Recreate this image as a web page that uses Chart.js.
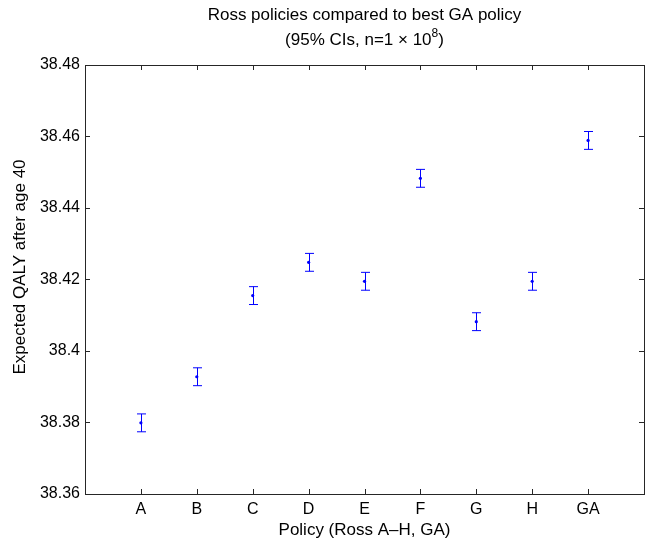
<!DOCTYPE html>
<html>
<head>
<meta charset="utf-8">
<script src="https://cdn.jsdelivr.net/npm/chart.js@4"></script>
<style>
  html, body { margin: 0; padding: 0; background: #fff; }
  #wrap { width: 648px; height: 543px; }
</style>
</head>
<body>
<div id="wrap"><canvas id="qalyChart" width="648" height="543"></canvas></div>
<script>
const policies = ['A', 'B', 'C', 'D', 'E', 'F', 'G', 'H', 'GA'];
const meanQaly = [38.3799, 38.3928, 38.4155, 38.4248, 38.4195, 38.4483, 38.4082, 38.4195, 38.4589];
const ciHalf = [0.0025, 0.0025, 0.0025, 0.0025, 0.0025, 0.0025, 0.0025, 0.0025, 0.0025];
const yTicks = [38.36, 38.38, 38.40, 38.42, 38.44, 38.46, 38.48];

const FONT = '"Liberation Sans", Arial, Helvetica, sans-serif';
const AXIS = '#262626';
const BLUE = '#0000ff';

const points = meanQaly.map((v, i) => ({ x: i + 1, y: v }));

// error bars, drawn from the scales
const errorBars = {
    id: 'errorBars',
    afterDatasetsDraw(chart) {
        const ctx = chart.ctx;
        const xs = chart.scales.x, ys = chart.scales.y;
        ctx.save();
        ctx.strokeStyle = BLUE;
        ctx.lineWidth = 1;
        meanQaly.forEach((m, i) => {
            const px = Math.round(xs.getPixelForValue(i + 1)) + 0.5;
            const top = ys.getPixelForValue(m + ciHalf[i]);
            const bot = ys.getPixelForValue(m - ciHalf[i]);
            ctx.beginPath();
            ctx.moveTo(px, top); ctx.lineTo(px, bot);
            ctx.moveTo(px - 4.5, top); ctx.lineTo(px + 4.5, top);
            ctx.moveTo(px - 4.5, bot); ctx.lineTo(px + 4.5, bot);
            ctx.stroke();
        });
        ctx.restore();
    }
};

// matlab style box with inward ticks, plus titles
const frame = {
    id: 'frame',
    afterDraw(chart) {
        const ctx = chart.ctx;
        const a = chart.chartArea;
        const xs = chart.scales.x, ys = chart.scales.y;
        ctx.save();
        ctx.strokeStyle = AXIS;
        ctx.lineWidth = 1;
        ctx.strokeRect(a.left + 0.5, a.top + 0.5, a.right - a.left, a.bottom - a.top);
        ctx.beginPath();
        yTicks.forEach(t => {
            const py = Math.round(ys.getPixelForValue(t)) + 0.5;
            ctx.moveTo(a.left, py); ctx.lineTo(a.left + 5, py);
            ctx.moveTo(a.right, py); ctx.lineTo(a.right - 5, py);
        });
        policies.forEach((p, i) => {
            const px = Math.round(xs.getPixelForValue(i + 1)) + 0.5;
            ctx.moveTo(px, a.bottom); ctx.lineTo(px, a.bottom - 5);
            ctx.moveTo(px, a.top); ctx.lineTo(px, a.top + 5);
        });
        ctx.stroke();

        ctx.fillStyle = '#000';
        ctx.textBaseline = 'middle';
        ctx.textAlign = 'center';
        const cx = (a.left + a.right) / 2;
        ctx.font = '17px ' + FONT;
        ctx.fillText('Ross policies compared to best GA policy', cx, 15);

        // second title line with superscript exponent
        const main = '(95% CIs, n=1 \u00d7 10';
        ctx.font = '17px ' + FONT;
        const w1 = ctx.measureText(main).width;
        ctx.font = '12px ' + FONT;
        const w2 = ctx.measureText('8').width;
        ctx.font = '17px ' + FONT;
        const w3 = ctx.measureText(')').width;
        let sx = cx - (w1 + w2 + w3) / 2;
        ctx.textAlign = 'left';
        ctx.fillText(main, sx, 40);
        ctx.font = '12px ' + FONT;
        ctx.fillText('8', sx + w1, 34);
        ctx.font = '17px ' + FONT;
        ctx.fillText(')', sx + w1 + w2, 40);

        ctx.textAlign = 'center';
        ctx.fillText('Policy (Ross A\u2013H, GA)', cx, 530);

        ctx.translate(20, 267);
        ctx.rotate(-Math.PI / 2);
        ctx.fillText('Expected QALY after age 40', 0, 0);
        ctx.restore();
    }
};

new Chart(document.getElementById('qalyChart').getContext('2d'), {
    type: 'scatter',
    data: {
        datasets: [{
            data: points,
            backgroundColor: BLUE,
            borderColor: BLUE,
            pointRadius: 1.6,
            borderWidth: 0
        }]
    },
    options: {
        responsive: false,
        animation: false,
        layout: { padding: { top: 65, right: 2, left: 0, bottom: 0 } },
        plugins: { legend: { display: false }, tooltip: { enabled: false }, title: { display: false } },
        scales: {
            x: {
                type: 'linear',
                min: 0,
                max: 10,
                grid: { display: false, drawTicks: false },
                border: { display: false },
                afterBuildTicks: s => { s.ticks = policies.map((p, i) => ({ value: i + 1 })); },
                afterFit: s => { s.height = 49; },
                ticks: {
                    autoSkip: false,
                    maxRotation: 0,
                    padding: 6,
                    color: '#000',
                    font: { family: FONT, size: 16 },
                    callback: v => policies[v - 1]
                }
            },
            y: {
                min: 38.36,
                max: 38.48,
                grid: { display: false, drawTicks: false },
                border: { display: false },
                afterBuildTicks: s => { s.ticks = yTicks.map(v => ({ value: v })); },
                afterFit: s => { s.width = 85; },
                ticks: {
                    padding: 5,
                    color: '#000',
                    font: { family: FONT, size: 16 },
                    callback: v => String(+v.toFixed(2))
                }
            }
        }
    },
    plugins: [errorBars, frame]
});
</script>
</body>
</html>
